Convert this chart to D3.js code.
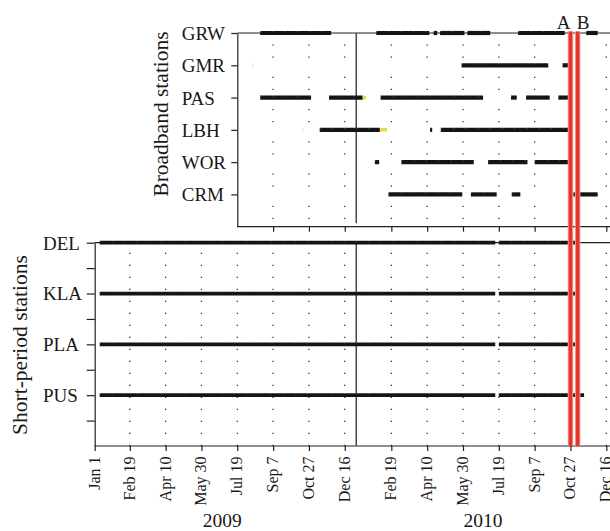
<!DOCTYPE html>
<html>
<head>
<meta charset="utf-8">
<title>Station recording periods 2009-2010</title>
<script src="https://d3js.org/d3.v7.min.js"></script>
<style>
  body { margin: 0; background: #fff; }
  text { font-family: "Liberation Serif", "Times New Roman", serif; fill: #1a1718; }
</style>
</head>
<body>
<div id="chart"></div>
<script>
// tick days, repeated for each year
var tickDays = ["01-01", "02-19", "04-10", "05-30", "07-19", "09-07", "10-27", "12-16"];
var tickLabels = ["Jan 1", "Feb 19", "Apr 10", "May 30", "Jul 19", "Sep 7", "Oct 27", "Dec 16"];
var years = ["2009", "2010"];
var yearLabelDates = ["2009-06-28", "2010-06-27"];

var broadbandStations = ["GRW", "GMR", "PAS", "LBH", "WOR", "CRM"];
var shortStations = ["DEL", "KLA", "PLA", "PUS"];

// recording periods [start, end]
var GRW = [["2009-08-20", "2009-11-27"], ["2010-01-29", "2010-04-13"], ["2010-04-19", "2010-04-24"],
           ["2010-04-28", "2010-06-01"], ["2010-06-05", "2010-07-07"], ["2010-08-15", "2010-10-19"],
           ["2010-11-18", "2010-12-04"]];
var GMR = [["2010-05-28", "2010-09-26"], ["2010-10-16", "2010-10-24"]];
var PAS = [["2009-08-20", "2009-10-30"], ["2009-11-24", "2010-01-10"], ["2010-02-04", "2010-06-27"],
           ["2010-08-05", "2010-08-13"], ["2010-08-26", "2010-09-28"], ["2010-10-10", "2010-10-25"]];
var LBH = [["2009-11-11", "2010-02-03"], ["2010-04-14", "2010-04-17"], ["2010-04-29", "2010-10-25"]];
var WOR = [["2010-01-27", "2010-02-02"], ["2010-03-05", "2010-06-14"], ["2010-07-04", "2010-08-28"],
           ["2010-09-07", "2010-10-24"]];
var CRM = [["2010-02-15", "2010-05-29"], ["2010-06-10", "2010-07-16"], ["2010-08-06", "2010-08-18"],
           ["2010-10-31", "2010-12-04"]];
var DEL = [["2009-01-08", "2010-07-14"], ["2010-07-19", "2010-11-04"]];
var KLA = [["2009-01-08", "2010-07-14"], ["2010-07-19", "2010-11-04"]];
var PLA = [["2009-01-08", "2010-07-14"], ["2010-07-19", "2010-11-04"]];
var PUS = [["2009-01-08", "2010-07-14"], ["2010-07-19", "2010-11-15"]];

// partly recorded days (yellow)
var partialStations = ["GMR", "LBH", "PAS", "LBH"];
var partialPeriods = [["2009-08-09", "2009-08-10"], ["2009-10-18", "2009-10-19"],
                      ["2010-01-10", "2010-01-15"], ["2010-02-03", "2010-02-13"]];

var eruptionLabels = ["A", "B"];
var eruptionDates = ["2010-10-27", "2010-11-06"];

var periods = { GRW: GRW, GMR: GMR, PAS: PAS, LBH: LBH, WOR: WOR, CRM: CRM,
                DEL: DEL, KLA: KLA, PLA: PLA, PUS: PUS };

var W = 610, H = 531;
var parse = d3.utcParse("%Y-%m-%d");

var svg = d3.select("#chart").append("svg")
  .attr("width", W).attr("height", H);

var x = d3.scaleUtc()
  .domain([parse("2009-01-01"), parse("2010-12-16")])
  .range([94.7, 606.3]);

var up = { left: 237.3, top: 33, bottom: 226.7 };
var lo = { left: 94.7, top: 242.7, bottom: 446 };

var yUp = d3.scaleLinear().domain([0, 6]).range([up.top, up.bottom]);
var yLo = d3.scaleLinear().domain([0, 4]).range([lo.top, lo.bottom]);

var ticks = [];
years.forEach(function(yr) {
  tickDays.forEach(function(d, i) {
    ticks.push({ date: parse(yr + "-" + d), label: tickLabels[i] });
  });
});
var newYear = parse("2010-01-01");
var axisTicks = ticks.filter(function(t) { return +t.date !== +newYear; });

// dotted grid
var step = yUp(1) - yUp(0);
svg.append("g").selectAll("line")
  .data(axisTicks.filter(function(t) { return x(t.date) > up.left + 2; }))
  .enter().append("line")
  .attr("x1", function(t) { return x(t.date); })
  .attr("x2", function(t) { return x(t.date); })
  .attr("y1", up.top).attr("y2", up.bottom)
  .attr("stroke", "#333").attr("stroke-width", 1.3)
  .attr("stroke-dasharray", [0, 11.4, 1.3, 10.7, 1.3, step - 24.7].join(","));

svg.append("g").selectAll("line")
  .data(axisTicks.filter(function(t) { return x(t.date) > lo.left + 2; }))
  .enter().append("line")
  .attr("x1", function(t) { return x(t.date); })
  .attr("x2", function(t) { return x(t.date); })
  .attr("y1", lo.top).attr("y2", lo.bottom)
  .attr("stroke", "#333").attr("stroke-width", 1.3)
  .attr("stroke-dasharray", "1.3,10.7").attr("stroke-dashoffset", 2);

// frame lines
svg.append("line").attr("x1", up.left).attr("x2", W).attr("y1", up.top).attr("y2", up.top)
  .attr("stroke", "#231f20").attr("stroke-width", 1.2);
svg.append("line").attr("x1", lo.left).attr("x2", W).attr("y1", lo.top).attr("y2", lo.top)
  .attr("stroke", "#231f20").attr("stroke-width", 1.2);

// bottom axes
svg.append("g")
  .attr("transform", "translate(0," + up.bottom + ")")
  .call(d3.axisBottom(x)
    .tickValues(axisTicks.filter(function(t) { return x(t.date) > up.left + 2; }).map(function(t) { return t.date; }))
    .tickSize(5).tickFormat(""))
  .call(function(g) { g.select(".domain").remove(); })
  .call(function(g) { g.selectAll("line").attr("stroke", "#231f20").attr("stroke-width", 1.2); });
svg.append("line").attr("x1", up.left).attr("x2", W).attr("y1", up.bottom).attr("y2", up.bottom)
  .attr("stroke", "#231f20").attr("stroke-width", 1.2);

svg.append("g")
  .attr("transform", "translate(0," + lo.bottom + ")")
  .call(d3.axisBottom(x)
    .tickValues(axisTicks.map(function(t) { return t.date; }))
    .tickSize(5).tickFormat(""))
  .call(function(g) { g.select(".domain").remove(); })
  .call(function(g) { g.selectAll("line").attr("stroke", "#231f20").attr("stroke-width", 1.2); });
svg.append("line").attr("x1", lo.left).attr("x2", W).attr("y1", lo.bottom).attr("y2", lo.bottom)
  .attr("stroke", "#231f20").attr("stroke-width", 1.2);

svg.append("g").selectAll("text")
  .data(axisTicks)
  .enter().append("text")
  .attr("transform", function(t) { return "translate(" + (x(t.date) + 5) + ",456.5) rotate(-90)"; })
  .attr("text-anchor", "end")
  .attr("font-size", 16)
  .text(function(t) { return t.label; });

svg.append("g").selectAll("text")
  .data(years)
  .enter().append("text")
  .attr("x", function(d, i) { return x(parse(yearLabelDates[i])); })
  .attr("y", 527)
  .attr("text-anchor", "middle")
  .attr("font-size", 19.5)
  .text(function(d) { return d; });

// left axes
function styleLeft(g, labelX) {
  g.attr("font-family", null).attr("font-size", 19).attr("color", "#231f20");
  g.selectAll(".tick line").attr("stroke-width", 1.2);
  g.select(".domain").attr("stroke-width", 1.2);
  g.selectAll(".tick text").attr("text-anchor", "start").attr("x", labelX).attr("dy", "0.34em");
}

svg.append("g")
  .attr("transform", "translate(" + up.left + ",0)")
  .call(d3.axisLeft(yUp).tickValues(d3.range(broadbandStations.length))
    .tickSize(6).tickSizeOuter(0)
    .tickFormat(function(d) { return broadbandStations[d]; }))
  .call(styleLeft, 181.7 - up.left);

svg.append("g")
  .attr("transform", "translate(" + lo.left + ",0)")
  .call(d3.axisLeft(yLo).tickValues(d3.range(0, 4, 0.5))
    .tickSize(8).tickSizeOuter(0)
    .tickFormat(function(d) { return Number.isInteger(d) ? shortStations[d] : ""; }))
  .call(styleLeft, 43 - lo.left);

svg.append("text")
  .attr("transform", "translate(168,114) rotate(-90)")
  .attr("text-anchor", "middle")
  .attr("font-size", 21.5)
  .text("Broadband stations");
svg.append("text")
  .attr("transform", "translate(26.5,345) rotate(-90)")
  .attr("text-anchor", "middle")
  .attr("font-size", 21.5)
  .text("Short-period stations");

// 2010 new year line
svg.append("line").attr("x1", x(newYear)).attr("x2", x(newYear))
  .attr("y1", up.top).attr("y2", up.bottom - 3.4)
  .attr("stroke", "#3a3a3a").attr("stroke-width", 1.4);
svg.append("line").attr("x1", x(newYear)).attr("x2", x(newYear))
  .attr("y1", lo.top).attr("y2", lo.bottom)
  .attr("stroke", "#3a3a3a").attr("stroke-width", 1.4);

// recording periods
var segs = [];
broadbandStations.forEach(function(s, i) {
  periods[s].forEach(function(p) { segs.push({ y: yUp(i), a: parse(p[0]), b: parse(p[1]), w: 4.2 }); });
});
shortStations.forEach(function(s, i) {
  periods[s].forEach(function(p) { segs.push({ y: yLo(i), a: parse(p[0]), b: parse(p[1]), w: 3.8 }); });
});

var segG = svg.append("g");
segG.selectAll("line.rec")
  .data(segs).enter().append("line")
  .attr("class", "rec")
  .attr("x1", function(d) { return x(d.a); })
  .attr("x2", function(d) { return x(d.b); })
  .attr("y1", function(d) { return d.y; })
  .attr("y2", function(d) { return d.y; })
  .attr("stroke", "#141414")
  .attr("stroke-width", function(d) { return d.w; });
segG.selectAll("line.speck")
  .data(segs).enter().append("line")
  .attr("class", "speck")
  .attr("x1", function(d) { return x(d.a); })
  .attr("x2", function(d) { return x(d.b); })
  .attr("y1", function(d) { return d.y - 1.4; })
  .attr("y2", function(d) { return d.y - 1.4; })
  .attr("stroke", "#a9a36a")
  .attr("stroke-opacity", 0.45)
  .attr("stroke-width", 0.9)
  .attr("stroke-dasharray", "1.2,11");

svg.append("g").selectAll("line")
  .data(partialPeriods)
  .enter().append("line")
  .attr("x1", function(p) { return x(parse(p[0])); })
  .attr("x2", function(p) { return x(parse(p[1])); })
  .attr("y1", function(p, i) { return yUp(broadbandStations.indexOf(partialStations[i])); })
  .attr("y2", function(p, i) { return yUp(broadbandStations.indexOf(partialStations[i])); })
  .attr("stroke", "#e6dc3c")
  .attr("stroke-width", 3.5);

// eruption markers
var eg = svg.append("g");
eg.selectAll("line.halo")
  .data(eruptionDates).enter().append("line")
  .attr("class", "halo")
  .attr("x1", function(d) { return x(parse(d)); })
  .attr("x2", function(d) { return x(parse(d)); })
  .attr("y1", 31.5).attr("y2", lo.bottom)
  .attr("stroke", "#f2a39c").attr("stroke-width", 5.5);
eg.selectAll("line.core")
  .data(eruptionDates).enter().append("line")
  .attr("class", "core")
  .attr("x1", function(d) { return x(parse(d)); })
  .attr("x2", function(d) { return x(parse(d)); })
  .attr("y1", 31.5).attr("y2", lo.bottom)
  .attr("stroke", "#e5342a").attr("stroke-width", 3.6);
eg.selectAll("text")
  .data(eruptionDates).enter().append("text")
  .attr("x", function(d, i) { return x(parse(d)) + (i === 0 ? 0 : -1); })
  .attr("y", 29)
  .attr("text-anchor", function(d, i) { return i === 0 ? "end" : "start"; })
  .attr("font-size", 19)
  .text(function(d, i) { return eruptionLabels[i]; });
</script>
</body>
</html>
